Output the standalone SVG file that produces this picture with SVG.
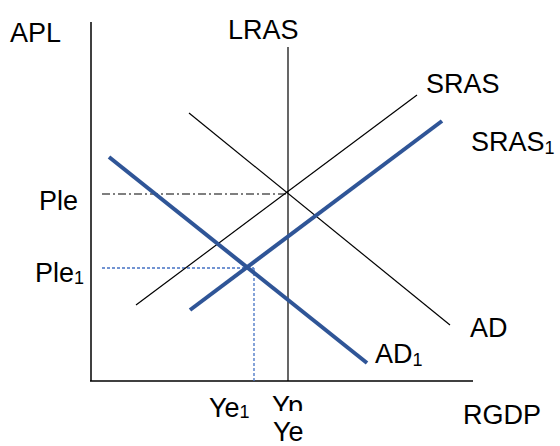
<svg xmlns="http://www.w3.org/2000/svg" width="560" height="446" viewBox="0 0 560 446">
<style>
text{font-family:"Liberation Sans",Arial,sans-serif;font-size:27px;fill:#000}
.sub{font-size:18px}
.thin{stroke:#000;stroke-width:1.2;fill:none}
.blue{stroke:#2F5597;stroke-width:4;fill:none}
.axis{stroke:#000;stroke-width:1.5;fill:none}
.dd{stroke:#000;stroke-width:1.2;stroke-dasharray:8,3,2,3;fill:none}
.db{stroke:#4472C4;stroke-width:1.3;stroke-dasharray:3,2;fill:none}
</style>
<defs>
<clipPath id="clipYp"><rect x="0" y="0" width="560" height="411"/></clipPath>
</defs>
<rect width="560" height="446" fill="#fff"/>
<g id="connectors">
<line class="axis" x1="91" y1="22" x2="91" y2="381"/>
<line class="axis" x1="90" y1="381" x2="473" y2="381"/>
<line class="dd" x1="102" y1="194" x2="288" y2="194"/>
<line class="db" x1="102" y1="268" x2="254" y2="268"/>
<line class="db" x1="254" y1="268" x2="254" y2="381"/>
</g>
<g id="LRAS"><line class="thin" x1="288" y1="47" x2="288" y2="381"/><text x="228" y="39">LRAS</text></g>
<g id="SRAS"><line class="thin" x1="136" y1="305" x2="417" y2="95"/><text x="426" y="93">SRAS</text></g>
<g id="AD"><line class="thin" x1="189" y1="113" x2="450" y2="325"/><text x="470" y="337">AD</text></g>
<g id="SRAS1"><line class="blue" x1="190" y1="310" x2="442" y2="121"/><text x="471" y="151">SRAS<tspan class="sub" dy="3">1</tspan></text></g>
<g id="AD1"><line class="blue" x1="109" y1="157" x2="367" y2="363"/><text x="375" y="363">AD<tspan class="sub" dy="3">1</tspan></text></g>
<g id="labels">
<text x="10" y="42">APL</text>
<text x="463" y="424">RGDP</text>
<text x="39" y="210">Ple</text>
<text x="35" y="282">Ple<tspan class="sub" dy="2">1</tspan></text>
<text x="209" y="417">Ye<tspan class="sub" dy="1">1</tspan></text>
<text x="272" y="415" clip-path="url(#clipYp)">Yp</text>
<text x="273" y="441">Ye</text>
</g>
</svg>
